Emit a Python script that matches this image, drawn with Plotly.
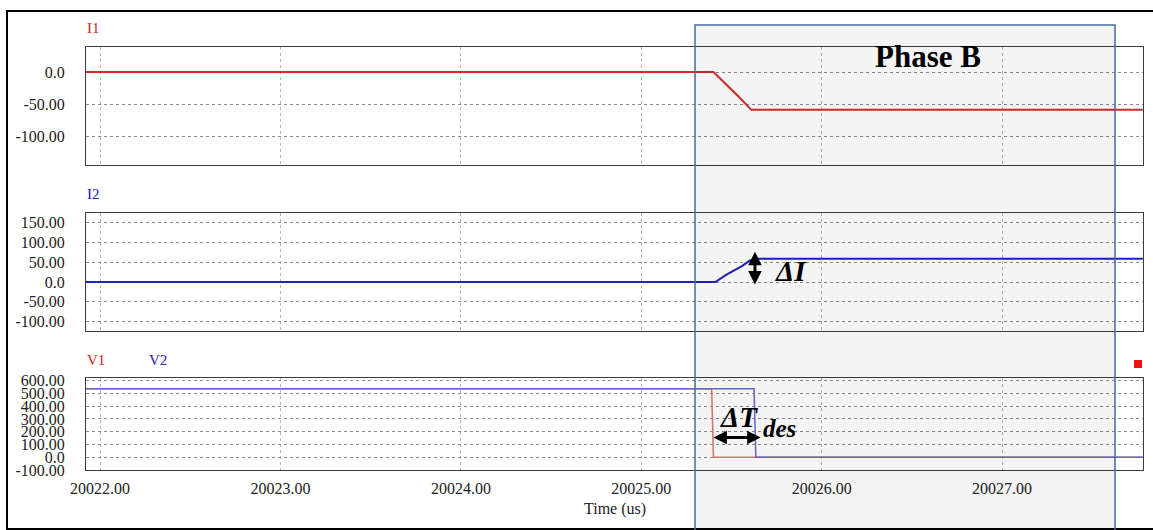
import plotly.graph_objects as go

# ---- data (time in us) ----
time_i1 = [20021.92, 20025.40, 20025.54, 20025.61, 20027.78]
i1 = [0, 0, -38.6, -59, -59]

time_i2 = [20021.92, 20025.41, 20025.47, 20025.56, 20025.60, 20025.64, 20027.78]
i2 = [0, 0, 18, 41, 54, 59, 59]

time_v1 = [20021.92, 20025.39, 20025.40, 20027.78]
v1 = [537, 537, 0, 0]

time_v2 = [20021.92, 20025.625, 20025.635, 20027.78]
v2 = [537, 537, 0, 0]

x_ticks = [20022, 20023, 20024, 20025, 20026, 20027]
x_ticktext = ["20022.00", "20023.00", "20024.00", "20025.00", "20026.00", "20027.00"]
i1_ticks = [0, -50, -100]
i1_ticktext = ["0.0", "-50.00", "-100.00"]
i2_ticks = [150, 100, 50, 0, -50, -100]
i2_ticktext = ["150.00", "100.00", "50.00", "0.0", "-50.00", "-100.00"]
v_ticks = [600, 500, 400, 300, 200, 100, 0, -100]
v_ticktext = ["600.00", "500.00", "400.00", "300.00", "200.00", "100.00", "0.0", "-100.00"]

W, H = 1153, 530
SERIF = "Liberation Serif, Times New Roman, serif"


def px_x(p):
    return p / W


def px_y(p):
    return 1 - p / H


fig = go.Figure()
fig.add_trace(go.Scatter(x=time_i1, y=i1, mode="lines", line=dict(color="#d42a2a", width=2),
                         xaxis="x", yaxis="y", name="I1"))
fig.add_trace(go.Scatter(x=time_i2, y=i2, mode="lines", line=dict(color="#2020c0", width=2),
                         xaxis="x2", yaxis="y2", name="I2"))
fig.add_trace(go.Scatter(x=time_v1, y=v1, mode="lines", line=dict(color="#d87878", width=1.5),
                         xaxis="x3", yaxis="y3", name="V1"))
fig.add_trace(go.Scatter(x=time_v2, y=v2, mode="lines", line=dict(color="#6a6ac4", width=1.5),
                         xaxis="x3", yaxis="y3", name="V2"))

x_range = [20021.922, 20027.781]
xcommon = dict(range=x_range, domain=[px_x(86), px_x(1143)], tickvals=x_ticks, ticktext=x_ticktext,
               showgrid=True, gridcolor="#b4b4b4", griddash="3px,3px", gridwidth=1,
               showline=True, mirror=True, linecolor="#3c3c3c", linewidth=1, automargin=False,
               zeroline=False, ticks="", tickfont=dict(family=SERIF, size=16, color="#222"))
ycommon = dict(showgrid=True, gridcolor="#8a8a8a", griddash="3px,3px", gridwidth=1,
               showline=True, mirror=True, linecolor="#3c3c3c", linewidth=1, automargin=False,
               zeroline=False, ticks="", ticklabelstandoff=17,
               tickfont=dict(family=SERIF, size=16, color="#222"))

fig.update_layout(
    width=W, height=H,
    margin=dict(l=0, r=0, t=0, b=0, autoexpand=False),
    paper_bgcolor="white", plot_bgcolor="white",
    showlegend=False,
    xaxis=dict(xcommon, anchor="y", showticklabels=False),
    xaxis2=dict(xcommon, anchor="y2", showticklabels=False),
    xaxis3=dict(xcommon, anchor="y3", ticklabelstandoff=4),
    yaxis=dict(ycommon, anchor="x", domain=[px_y(165), px_y(47)], range=[-145, 39],
               tickvals=i1_ticks, ticktext=i1_ticktext),
    yaxis2=dict(ycommon, anchor="x2", domain=[px_y(331), px_y(213)], range=[-124, 175],
                tickvals=i2_ticks, ticktext=i2_ticktext),
    yaxis3=dict(ycommon, anchor="x3", domain=[px_y(470), px_y(378)], range=[-100, 621],
                tickvals=v_ticks, ticktext=v_ticktext),
)

# outer frame, Phase B window, small red marker
fig.add_shape(type="rect", xref="paper", yref="paper", x0=px_x(7), x1=1.02, y0=px_y(529), y1=px_y(11),
              line=dict(color="black", width=2), layer="above")
fig.add_shape(type="rect", xref="paper", yref="paper", x0=px_x(695), x1=px_x(1115), y0=-0.02, y1=px_y(25),
              fillcolor="rgba(0,0,0,0.045)", line=dict(color="#4a6a9c", width=1.5), layer="above")
fig.add_shape(type="rect", xref="paper", yref="paper", x0=px_x(1134), x1=px_x(1142), y0=px_y(368), y1=px_y(360),
              fillcolor="#ee1111", line=dict(width=0), layer="above")


def label(txt, lx, ly, size, color="black", xanchor="left"):
    fig.add_annotation(x=px_x(lx), y=px_y(ly), xref="paper", yref="paper", text=txt, showarrow=False,
                       xanchor=xanchor, yanchor="middle", font=dict(family=SERIF, size=size, color=color))


label("I1", 85, 28, 15, "#c81e1e")
label("I2", 85, 194, 15, "#2020b0")
label("V1", 85, 360, 15, "#d02020")
label("V2", 147, 360, 15, "#2020b0")
label("Time (us)", 615, 509, 16, "#222", xanchor="center")
label("<b>Phase B</b>", 928, 57, 31, xanchor="center")

# delta I arrow and label
fig.add_annotation(x=20025.63, y=77, ax=20025.63, ay=-10, xref="x2", yref="y2", axref="x2", ayref="y2",
                   text="", showarrow=True, arrowhead=2, arrowside="end+start", arrowsize=0.9,
                   arrowwidth=3, arrowcolor="black")
label("<b><i>ΔI</i></b>", 773, 271, 29)

# delta T_des arrow and label
fig.add_annotation(x=20025.40, y=155, ax=20025.67, ay=155, xref="x3", yref="y3", axref="x3", ayref="y3",
                   text="", showarrow=True, arrowhead=2, arrowside="end+start", arrowsize=0.9,
                   arrowwidth=3, arrowcolor="black")
label("<b><i>ΔT</i></b>", 718, 417, 29)
label("<b><i>des</i></b>", 761, 428, 25)

# page body has a default 8px margin; drop it so the figure sits at the window origin
fig.write_html("out.html", config={"displayModeBar": False},
               post_script="document.body.style.margin='0';")
